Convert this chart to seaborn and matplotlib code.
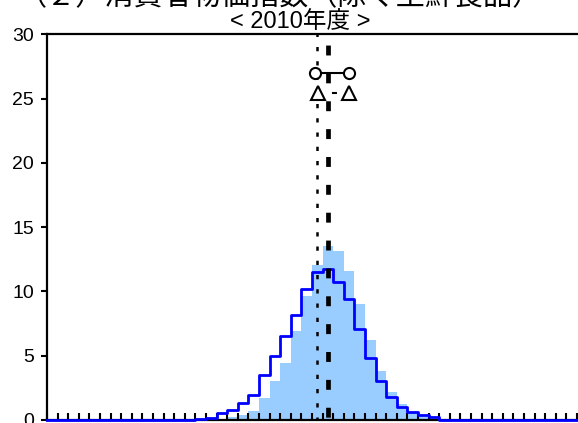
import numpy as np
import pandas as pd
import seaborn as sns
import matplotlib
matplotlib.use("Agg")
import matplotlib.pyplot as plt

# x axis: percent, bins 0.1 pt wide
bin_width = 0.1
x_min, x_max = -3.0, 2.1

# shaded histogram (left edge of first bin, then heights in %)
light_start = -1.3
light_heights = [0.2, 0.4, 0.65, 1.7, 3.05, 4.45, 6.9, 9.6, 12.05, 13.55,
                 13.15, 11.6, 9.05, 6.25, 3.8, 2.2, 1.2, 0.55, 0.25, 0.1]

# blue outline histogram
blue_start = -1.6
blue_heights = [0.1, 0.15, 0.55, 0.75, 1.3, 1.95, 3.5, 5.0, 6.5, 8.15, 10.2,
                11.5, 11.75, 10.7, 9.4, 7.05, 4.8, 3.0, 1.8, 1.0, 0.6, 0.4, 0.2]

# medians and forecast ranges
median_dotted = -0.45
median_dashed = -0.35
circle_x = [-0.47, -0.15]
circle_y = [27.0, 27.0]
triangle_x = [-0.44, -0.15]
triangle_y = [25.4, 25.4]

y_ticks = [0, 5, 10, 15, 20, 25, 30]
title_main = "（２）消費者物価指数（除く生鮮食品）"
title_sub = "< 2010年度 >"


def to_frame(start, heights):
    centers = start + bin_width * (np.arange(len(heights)) + 0.5)
    return pd.DataFrame({"x": np.round(centers, 3), "pct": heights})


light_df = to_frame(light_start, light_heights)
blue_df = to_frame(blue_start, blue_heights)
n_bins = int(round((x_max - x_min) / bin_width))
edges = np.round(np.linspace(x_min, x_max, n_bins + 1), 2)

plt.rcParams["font.family"] = ["Liberation Sans", "Noto Sans CJK JP"]

fig = plt.figure(figsize=(5.78, 4.23), dpi=100)
px_per_bin = 10.6
ax = fig.add_axes([47 / 578, 3.2 / 423, n_bins * px_per_bin / 578, 385.4 / 423])

sns.histplot(data=light_df, x="x", weights="pct", bins=n_bins,
             binrange=(x_min, x_max), stat="count", element="bars",
             color="#99CCFF", alpha=1, edgecolor="none", linewidth=0, ax=ax)
sns.histplot(data=blue_df, x="x", weights="pct", bins=n_bins,
             binrange=(x_min, x_max), stat="count", element="step",
             fill=False, color="#0000FF", linewidth=2, zorder=3,
             clip_on=False, ax=ax)

ax.axvline(median_dotted, color="black", lw=1.8, linestyle=(0.5, (1.7, 4.0)),
           zorder=4)
ax.axvline(median_dashed, color="black", lw=3.4, linestyle=(5.3, (2.1, 3.8)),
           zorder=4)

# range connectors, then open markers on top
ax.plot(circle_x, circle_y, color="black", lw=1.5, zorder=3)
ax.plot(triangle_x, triangle_y, color="black", lw=1.5,
        linestyle=(1.0, (2.4, 5.3)), zorder=3)
ax.plot(circle_x, circle_y, linestyle="none", marker="o", ms=8,
        mfc="white", mec="black", mew=1.5, zorder=5)
ax.plot(triangle_x, triangle_y, linestyle="none", marker="^", ms=9.5,
        mfc="white", mec="black", mew=1.5, zorder=5)

ax.set_xlim(x_min, x_max)
ax.set_ylim(0, 30)
ax.set_xlabel("")
ax.set_ylabel("")
ax.set_yticks(y_ticks)
ax.set_xticks(edges)
ax.tick_params(axis="y", direction="out", length=4.3, width=1.5,
               labelsize=14, pad=5)
ax.tick_params(axis="x", direction="in", length=5, width=1.5,
               labelbottom=False)
for side in ["left", "bottom", "top"]:
    ax.spines[side].set_linewidth(1.6)
ax.spines["right"].set_visible(False)

fig.text(280 / 578, 1 - 5.5 / 423, title_main, ha="center", va="baseline",
         fontsize=21)
fig.text(300 / 578, 1 - 28 / 423, title_sub, ha="center", va="baseline",
         fontsize=17)

fig.savefig("out.png", dpi=100)
